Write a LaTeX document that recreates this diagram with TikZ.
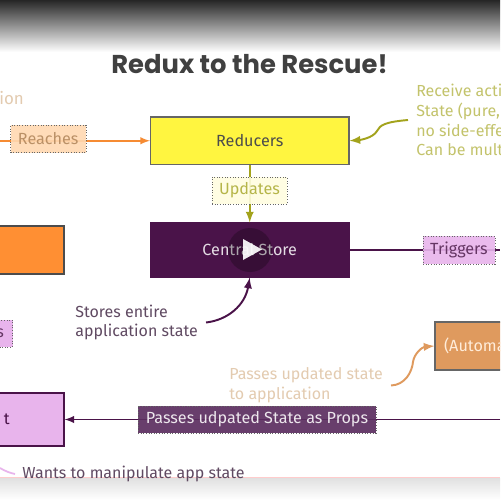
\documentclass[tikz,border=0pt]{standalone}
\usepackage{fontspec}
\setmainfont{Fira Sans}
\newfontfamily\titlefont{Poppins}
\usetikzlibrary{positioning}
\def \px {0.02cm}
\definecolor{orangeline}{HTML}{F68B33}
\definecolor{oliveline}{HTML}{A3A31C}
\definecolor{plumdark}{HTML}{4A1349}
\definecolor{plummid}{HTML}{5C2E60}
\definecolor{plumtext}{HTML}{604A62}
\definecolor{pinkfill}{HTML}{E8B4EC}
\definecolor{tanfill}{HTML}{DF9A5E}
\definecolor{tantext}{HTML}{E3CBB0}
\tikzset{
  box/.style={draw=#1,line width=0.6pt,inner sep=0pt,font=\fontsize{9.2}{11}\selectfont},
  tag/.style={draw=black!60,densely dotted,line width=0.5pt,inner sep=0pt,font=\fontsize{9.2}{11}\selectfont},
  note/.style={align=left,inner xsep=4.5pt,inner ysep=0pt,font=\fontsize{9.1}{11.3}\selectfont}
}
\begin{document}
\begin{tikzpicture}[x=\px,y=-\px,>=latex]
  \useasboundingbox (0,0) rectangle (500,500);
  \clip (0,0) rectangle (500,500);
  \fill[white] (0,0) rectangle (500,500);
  \shade[top color=black!85,middle color=black!45,bottom color=white] (0,0) rectangle (500,52);
  \shade[top color=black!12,bottom color=white] (0,478) rectangle (500,500);
  \fill[red!20] (0,476.5) rectangle (500,478);
  \node[font=\titlefont\bfseries\fontsize{14.7}{16}\selectfont,text=black!75] (title) at (249.5,64) {Redux to the Rescue!};
  % boxes
  \node[box=black!60,fill=yellow!75!white,minimum width=198.5*\px,minimum height=47.5*\px,text=black!70] (reducers) at (249.75,140.75) {Reducers};
  \node[box=plumdark,fill=plumdark,minimum width=198.5*\px,minimum height=54*\px,text=white!85!plumdark] (store) at (249.75,250) {Central Store};
  \node[box=black!70,fill=orange!90!red!80!white,minimum width=80*\px,minimum height=48*\px] (action) at (24,250) {};
  \node[box=plumdark,fill=pinkfill,minimum width=80*\px,minimum height=53*\px,text width=76*\px,align=left,text=plumdark] (client) at (24,419.5) {\hspace*{0.36cm}t};
  \node[box=black!60,fill=tanfill,minimum width=85*\px,minimum height=48*\px,text width=67*\px,align=left,text=orange!15!white] (auto) at (477.5,346) {(Automa};
  % connectors
  \coordinate (leftedge) at (0,140.75);
  \coordinate (rightedge) at (500,250);
  \coordinate (rightprops) at (500,419.5);
  \draw[->,orangeline,line width=0.9pt] (leftedge) -- (reducers.west);
  \draw[->,oliveline,line width=1.1pt] (reducers.south) -- (store.north);
  \draw[plumdark,line width=0.9pt] (store.east) -- (rightedge);
  \draw[->,plumdark,line width=0.9pt] (rightprops) -- (client.east);
  % labels on the lines
  \node[tag,fill=orange!30!white,fill opacity=0.9,text opacity=1,text=black!45!orange!60,minimum width=75.5*\px,minimum height=27.5*\px] (reaches) at (48.25,139) {Reaches};
  \node[tag,fill=yellow!12!white,fill opacity=0.9,text opacity=1,text=oliveline!80,minimum width=75*\px,minimum height=27*\px] (updates) at (249.5,190.5) {Updates};
  \node[tag,fill=pinkfill,fill opacity=0.9,text opacity=1,text=plumdark!85,minimum width=72*\px,minimum height=28*\px] (triggers) at (459,250) {Triggers};
  \node[tag,fill=pinkfill,text=plumdark!85,minimum width=34*\px,minimum height=27*\px,text width=30*\px,align=right] (dispatch) at (-4.5,333.5) {s\hspace*{0.13cm}};
  \node[tag,fill=plummid,fill opacity=0.92,text opacity=1,text=white!90!plumdark,minimum width=238*\px,minimum height=27*\px] (props) at (257,419.5) {Passes udpated State as Props};
  % notes
  \node[note,anchor=north west,inner xsep=0pt,text=tantext,font=\fontsize{9.6}{11.4}\selectfont] (actionnote) at (-1,91) {ion};
  \node[note,anchor=west,text=oliveline!65] (recv) at (408,120) {Receive acti\\State (pure,\\no side-effe\\Can be mult};
  \node[note,anchor=east,text=plumtext] (stores) at (206,322.5) {Stores entire\\application state};
  \node[note,anchor=east,text=tantext] (passes) at (391,385.5) {Passes updated state\\to application};
  \node[note,anchor=west,inner xsep=4pt,text=plumtext] (wants) at (15,474) {Wants to manipulate app state};
  \coordinate (leftwants) at (0,468);
  \draw[->,oliveline,line width=1.1pt] (recv.west) .. controls (385,122) and (380,125) .. (377,131) .. controls (373,138) and (360,140) .. (reducers.east);
  \draw[->,plumdark,line width=1.1pt] (stores.east) .. controls (228,320) and (245,305) .. (store.south);
  \draw[->,tanfill,line width=1.1pt] (passes.east) .. controls (405,385) and (412,372) .. (413,362) .. controls (414,354) and (422,347) .. (auto.west);
  \draw[pinkfill,line width=1pt] (leftwants) .. controls (5,471) and (10,473) .. (wants.west);
  % play button
  \node[circle,fill=black,fill opacity=0.25,minimum size=44*\px,inner sep=0pt] (playdisc) at (250,250) {};
  \fill[white,opacity=0.92] (243,239) -- (262,249.5) -- (243,260) -- cycle;
\end{tikzpicture}
\end{document}
